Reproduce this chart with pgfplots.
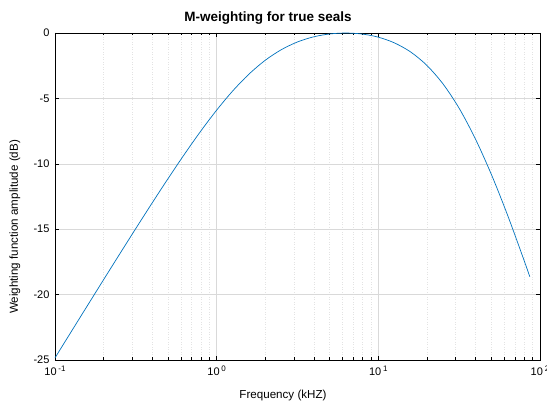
\documentclass[border=0pt]{standalone}
\usepackage{pgfplots}
\pgfplotsset{compat=1.18}
\usepackage{fontspec}
\setmainfont{Liberation Sans}
\definecolor{mblue}{rgb}{0,0.447,0.741}
\newcommand{\tl}[1]{10\,\raisebox{0.75ex}{\fontsize{8}{9}\selectfont #1}}
\pgfplotstableread{
f W
0.1 -24.837
0.12589 -22.844
0.15849 -20.855
0.19953 -18.873
0.25119 -16.900
0.31623 -14.945
0.39811 -13.014
0.50119 -11.119
0.63096 -9.283
0.79433 -7.530
1.0 -5.897
1.2589 -4.421
1.5849 -3.143
1.9953 -2.091
2.5119 -1.276
3.1623 -0.685
3.9811 -0.293
5.0119 -0.072
6.3096 -0.003
7.9433 -0.080
10.0 -0.319
12.589 -0.758
15.849 -1.451
19.953 -2.472
25.119 -3.891
31.623 -5.756
39.811 -8.084
50.119 -10.835
63.096 -13.943
79.433 -17.330
86.5 -18.634
}\datatable
\begin{document}
\begin{tikzpicture}
\path[use as bounding box] (-55pt,-46pt) rectangle (492pt,360pt);
\begin{axis}[
  at={(0pt,0pt)}, anchor=south west,
  scale only axis, width=485pt, height=327pt,
  xmode=log, xmin=0.1, xmax=100, ymin=-25, ymax=0,
  axis line style={black, line width=0.6pt},
  tick style={black, line width=0.5pt},
  major tick length=4pt, minor tick length=2.5pt,
  tick align=inside,
  xtick={0.1,1,10,100},
  xticklabels={{\tl{-1}},{\tl{0}},{\tl{1}},{\tl{2}}},
  ytick={-25,-20,-15,-10,-5,0},
  yticklabels={-25,-20,-15,-10,-5,0},
  grid=both,
  major grid style={gray!30, line width=0.4pt},
  minor x grid style={gray!22, dash pattern=on 0.5pt off 2pt, line width=0.4pt},
  minor y grid style={draw=none},
  minor ytick={},
  ticklabel style={font=\fontsize{11}{13}\selectfont},
  xticklabel style={yshift=-2pt},
  yticklabel style={xshift=-2pt},
]
\addplot[mblue, line width=0.7pt, smooth, tension=0.5] table[x=f, y=W] {\datatable};
\end{axis}
\node[font=\fontsize{13.5}{15}\selectfont\bfseries] at (213pt,342pt) {M-weighting for true seals};
\node[font=\fontsize{11.6}{13}\selectfont] at (228pt,-36pt) {Frequency (kHZ)};
\node[font=\fontsize{11.6}{13}\selectfont, rotate=90] at (-40pt,133pt) {Weighting function amplitude (dB)};
\end{tikzpicture}
\end{document}
